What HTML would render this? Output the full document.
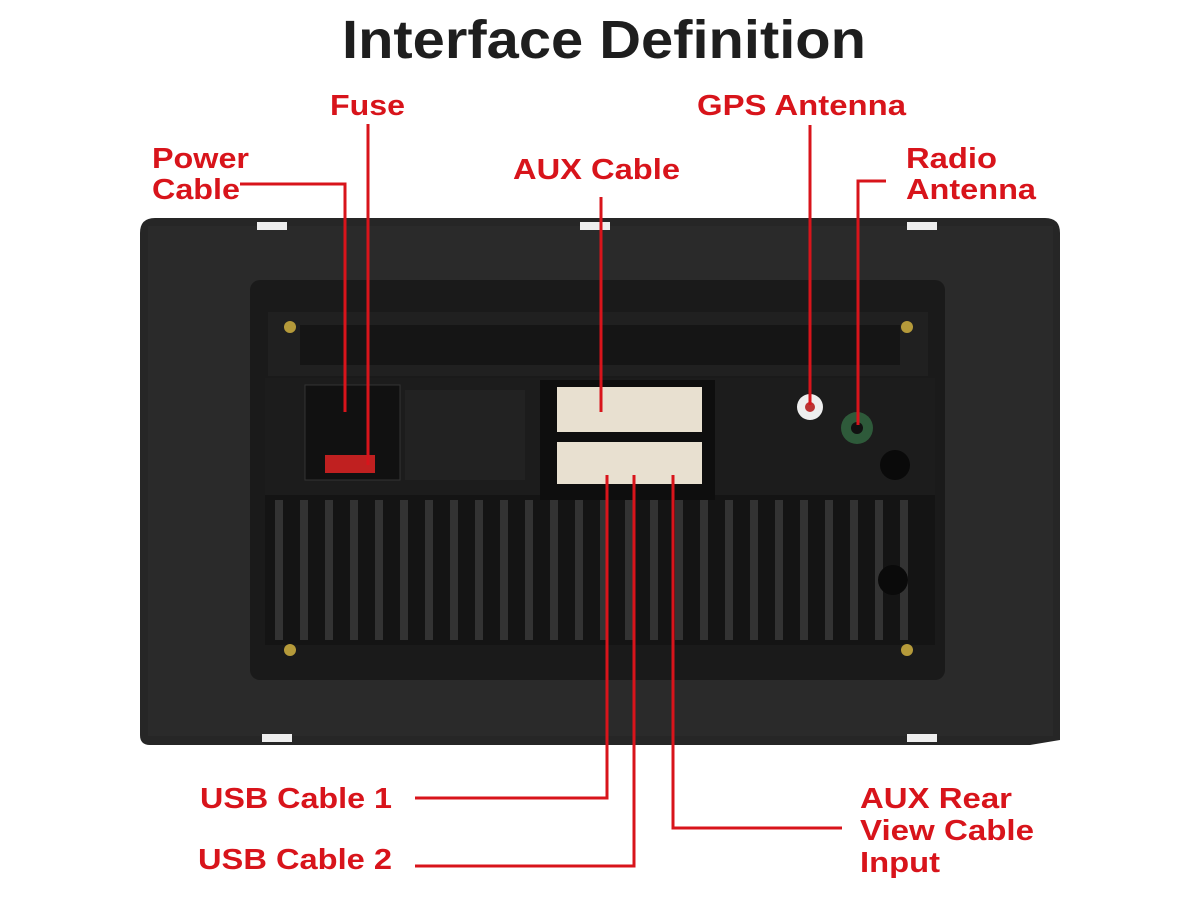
<!DOCTYPE html>
<html><head><meta charset="utf-8"><style>
html,body{margin:0;padding:0;background:#fff;}
svg{display:block}
text{font-family:"Liberation Sans",sans-serif;font-weight:bold}
.r{fill:#d8141b;font-size:29px}
</style></head><body>
<svg width="1200" height="900" viewBox="0 0 1200 900">
<rect width="1200" height="900" fill="#fff"/>
<text x="342" y="58" textLength="524" lengthAdjust="spacingAndGlyphs" font-size="54" fill="#1e1e1e">Interface Definition</text>
<path d="M155 218 L1045 218 Q1060 218 1060 233 L1060 740 L1030 745 L150 745 Q140 745 140 735 L140 233 Q140 218 155 218Z" fill="#262626"/>
<rect x="148" y="226" width="905" height="510" fill="#2d2d2d" opacity="0.6"/>
<rect x="250" y="280" width="695" height="400" rx="10" fill="#1a1a1a"/>
<rect x="268" y="312" width="660" height="64" fill="#202020"/>
<rect x="300" y="325" width="600" height="40" fill="#151515"/>
<rect x="265" y="378" width="670" height="120" fill="#1c1c1c"/>
<rect x="265" y="495" width="670" height="150" fill="#141414"/>
<g fill="#333">
<rect x="275" y="500" width="8" height="140"/><rect x="300" y="500" width="8" height="140"/><rect x="325" y="500" width="8" height="140"/><rect x="350" y="500" width="8" height="140"/><rect x="375" y="500" width="8" height="140"/><rect x="400" y="500" width="8" height="140"/><rect x="425" y="500" width="8" height="140"/><rect x="450" y="500" width="8" height="140"/><rect x="475" y="500" width="8" height="140"/><rect x="500" y="500" width="8" height="140"/><rect x="525" y="500" width="8" height="140"/><rect x="550" y="500" width="8" height="140"/><rect x="575" y="500" width="8" height="140"/><rect x="600" y="500" width="8" height="140"/><rect x="625" y="500" width="8" height="140"/><rect x="650" y="500" width="8" height="140"/><rect x="675" y="500" width="8" height="140"/><rect x="700" y="500" width="8" height="140"/><rect x="725" y="500" width="8" height="140"/><rect x="750" y="500" width="8" height="140"/><rect x="775" y="500" width="8" height="140"/><rect x="800" y="500" width="8" height="140"/><rect x="825" y="500" width="8" height="140"/><rect x="850" y="500" width="8" height="140"/><rect x="875" y="500" width="8" height="140"/><rect x="900" y="500" width="8" height="140"/>
</g>
<rect x="305" y="385" width="95" height="95" fill="#111" stroke="#333"/>
<rect x="325" y="455" width="50" height="18" fill="#c02020"/>
<rect x="405" y="390" width="120" height="90" fill="#222"/>
<rect x="540" y="380" width="175" height="120" fill="#0e0e0e"/>
<rect x="557" y="387" width="145" height="45" fill="#e8e0d0"/>
<rect x="557" y="442" width="145" height="42" fill="#e8e0d0"/>
<circle cx="810" cy="407" r="13" fill="#eee"/><circle cx="810" cy="407" r="5" fill="#bb3333"/>
<circle cx="857" cy="428" r="16" fill="#2e5a3a"/><circle cx="857" cy="428" r="6" fill="#111"/>
<circle cx="895" cy="465" r="15" fill="#0a0a0a"/>
<circle cx="893" cy="580" r="15" fill="#0a0a0a"/>
<g fill="#b59a3a"><circle cx="290" cy="327" r="6"/><circle cx="907" cy="327" r="6"/><circle cx="290" cy="650" r="6"/><circle cx="907" cy="650" r="6"/></g>
<g fill="#eee"><rect x="257" y="222" width="30" height="8"/><rect x="580" y="222" width="30" height="8"/><rect x="907" y="222" width="30" height="8"/><rect x="262" y="734" width="30" height="8"/><rect x="907" y="734" width="30" height="8"/></g>
<g stroke="#d8141b" stroke-width="3" fill="none">
<polyline points="240,184 345,184 345,412"/>
<line x1="368" y1="124" x2="368" y2="465"/>
<line x1="601" y1="197" x2="601" y2="412"/>
<line x1="810" y1="125" x2="810" y2="405"/>
<polyline points="886,181 858,181 858,425"/>
<polyline points="607,475 607,798 415,798"/>
<polyline points="634,475 634,866 415,866"/>
<polyline points="673,475 673,828 842,828"/>
</g>
<g lengthAdjust="spacingAndGlyphs">
<text class="r" x="330" y="115" textLength="75" lengthAdjust="spacingAndGlyphs">Fuse</text>
<text class="r" x="152" y="168" textLength="97" lengthAdjust="spacingAndGlyphs">Power</text>
<text class="r" x="152" y="199" textLength="88" lengthAdjust="spacingAndGlyphs">Cable</text>
<text class="r" x="513" y="179" textLength="167" lengthAdjust="spacingAndGlyphs">AUX Cable</text>
<text class="r" x="697" y="115" textLength="209" lengthAdjust="spacingAndGlyphs">GPS Antenna</text>
<text class="r" x="906" y="168" textLength="91" lengthAdjust="spacingAndGlyphs">Radio</text>
<text class="r" x="906" y="199" textLength="130" lengthAdjust="spacingAndGlyphs">Antenna</text>
<text class="r" x="200" y="808" textLength="192" lengthAdjust="spacingAndGlyphs">USB Cable 1</text>
<text class="r" x="198" y="869" textLength="194" lengthAdjust="spacingAndGlyphs">USB Cable 2</text>
<text class="r" x="860" y="808" textLength="152" lengthAdjust="spacingAndGlyphs">AUX Rear</text>
<text class="r" x="860" y="840" textLength="174" lengthAdjust="spacingAndGlyphs">View Cable</text>
<text class="r" x="860" y="872" textLength="80" lengthAdjust="spacingAndGlyphs">Input</text>
</g>
</svg>
</body></html>
